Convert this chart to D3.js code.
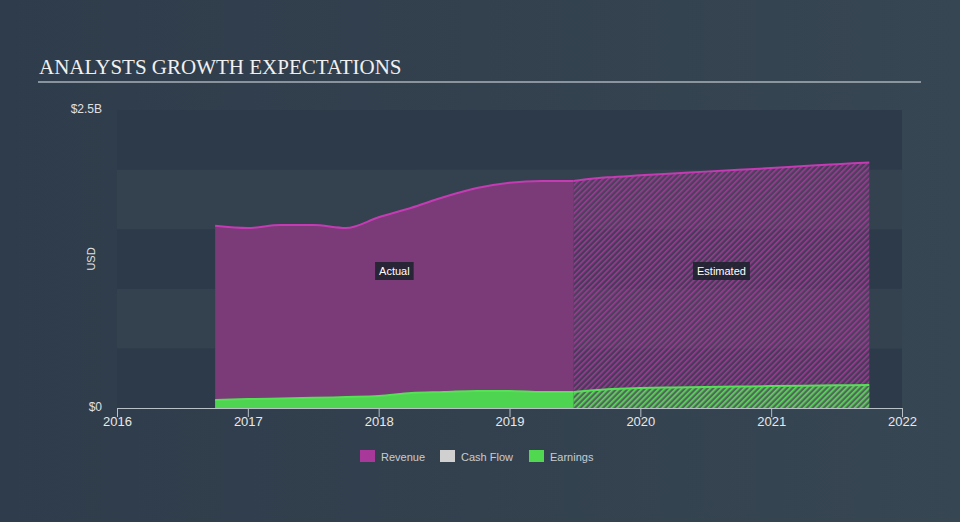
<!DOCTYPE html>
<html><head><meta charset="utf-8">
<script src="https://cdn.jsdelivr.net/npm/d3@7"></script>
<style>html,body{margin:0;padding:0;background:#333f4e;}svg{display:block;}</style>
</head><body>
<script>
// ---- data (values in billions USD, x in fractional years) ----
const revenueActualX = [2016.75, 2017.0, 2017.25, 2017.5, 2017.75, 2018.0, 2018.25, 2018.5, 2018.75, 2019.0, 2019.25, 2019.49];
const revenueActualY = [1.529, 1.51, 1.535, 1.535, 1.51, 1.60, 1.68, 1.77, 1.845, 1.89, 1.905, 1.905];
const revenueEstX = [2019.49, 2019.75, 2020.0, 2020.25, 2020.5, 2020.75, 2021.0, 2021.25, 2021.5, 2021.75];
const revenueEstY = [1.905, 1.935, 1.952, 1.968, 1.983, 1.998, 2.013, 2.03, 2.045, 2.06];
const earningsActualX = [2016.75, 2017.0, 2017.25, 2017.5, 2017.75, 2018.0, 2018.25, 2018.5, 2018.75, 2019.0, 2019.25, 2019.49];
const earningsActualY = [0.067, 0.075, 0.08, 0.085, 0.092, 0.10, 0.126, 0.134, 0.143, 0.143, 0.134, 0.134];
const earningsEstX = [2019.49, 2019.75, 2020.0, 2020.25, 2020.5, 2020.75, 2021.0, 2021.25, 2021.5, 2021.75];
const earningsEstY = [0.134, 0.158, 0.167, 0.172, 0.176, 0.18, 0.184, 0.187, 0.19, 0.193];
const xTicks = [2016, 2017, 2018, 2019, 2020, 2021, 2022];
const yTickValues = [0, 2.5];
const yTickLabels = ["$0", "$2.5B"];
const legendNames = ["Revenue", "Cash Flow", "Earnings"];
const legendColors = ["#a8389a", "#d0d0d0", "#50d850"];
const title = "ANALYSTS GROWTH EXPECTATIONS";

const W = 960, H = 522;
const svg = d3.select("body").append("svg").attr("width", W).attr("height", H);
const defs = svg.append("defs");
const bg = defs.append("linearGradient").attr("id","bg").attr("x1","0").attr("y1","0").attr("x2","1").attr("y2","0");
bg.append("stop").attr("offset","0").attr("stop-color","#2f3c4b");
bg.append("stop").attr("offset","1").attr("stop-color","#374653");
svg.append("rect").attr("width",W).attr("height",H).attr("fill","url(#bg)");

function hatch(id, base, stripe, op){
  const p = defs.append("pattern").attr("id",id).attr("patternUnits","userSpaceOnUse")
    .attr("width",4).attr("height",4).attr("patternTransform","rotate(45)");
  p.append("rect").attr("width",4).attr("height",4).attr("fill",base).attr("fill-opacity",op);
  p.append("rect").attr("width",1.6).attr("height",4).attr("fill",stripe);
}
hatch("hRev", "#7b3a78", "#9a3d92", 0.35);
hatch("hEarn", "#4cc64e", "#58d858", 0.35);

const x = d3.scaleLinear().domain([2016, 2022]).range([117, 902]);
const y = d3.scaleLinear().domain([0, 2.5]).range([408, 110]);

// bands
const bands = d3.range(0, 2.5, 0.5);
svg.append("g").selectAll("rect").data(bands).join("rect")
  .attr("x", x(2016)).attr("width", x(2022) - x(2016))
  .attr("y", d => y(d + 0.5)).attr("height", d => y(d) - y(d + 0.5))
  .attr("fill", (d, i) => i % 2 === 0 ? "#2d3a49" : "#34424f");

// title
svg.append("text").attr("x", 39).attr("y", 74).text(title)
  .attr("font-family", "Liberation Serif, serif").attr("font-size", 21).attr("fill", "#f0f0f0");
svg.append("line").attr("x1", 38).attr("x2", 921).attr("y1", 82).attr("y2", 82)
  .attr("stroke", "#a8b0b8").attr("stroke-width", 1.5);

const curve = d3.curveMonotoneX;
function zip(xs, ys){ return xs.map((v, i) => [v, ys[i]]); }
const area = d3.area().x(d => x(d[0])).y0(y(0)).y1(d => y(d[1])).curve(curve);
const line = d3.line().x(d => x(d[0])).y(d => y(d[1])).curve(curve);

const rA = zip(revenueActualX, revenueActualY), rE = zip(revenueEstX, revenueEstY);
const eA = zip(earningsActualX, earningsActualY), eE = zip(earningsEstX, earningsEstY);

svg.append("path").attr("d", area(rA)).attr("fill", "#7b3a78");
svg.append("path").attr("d", area(rE)).attr("fill", "url(#hRev)");
svg.append("path").attr("d", line(rA)).attr("fill", "none").attr("stroke", "#c43bb4").attr("stroke-width", 2);
svg.append("path").attr("d", line(rE)).attr("fill", "none").attr("stroke", "#c43bb4").attr("stroke-width", 2);

svg.append("path").attr("d", area(eA)).attr("fill", "#4fd451");
svg.append("path").attr("d", area(eE)).attr("fill", "url(#hEarn)");
svg.append("path").attr("d", line(eA)).attr("fill", "none").attr("stroke", "#55e055").attr("stroke-width", 2);
svg.append("path").attr("d", line(eE)).attr("fill", "none").attr("stroke", "#55e055").attr("stroke-width", 2);

// x axis
const xAxis = d3.axisBottom(x).tickValues(xTicks).tickFormat(d3.format("d")).tickSize(9).tickSizeOuter(0);
const gx = svg.append("g").attr("transform", `translate(0,${y(0)})`).call(xAxis);
gx.select(".domain").attr("stroke", "#b8c0c8");
gx.selectAll(".tick line").attr("stroke", "#b8c0c8");
gx.selectAll(".tick text").attr("fill", "#e8e8e8").attr("font-size", 13)
  .attr("font-family", "Liberation Sans, Arial, sans-serif").attr("dy", 0).attr("y", 18);

// y labels
svg.append("g").selectAll("text").data(yTickValues).join("text")
  .attr("x", 102).attr("y", d => y(d) + 3).attr("text-anchor", "end")
  .attr("font-family", "Liberation Sans, Arial, sans-serif").attr("font-size", 12)
  .attr("fill", "#e0e0e0").text((d, i) => yTickLabels[i]);
svg.append("text").attr("transform", `translate(95,${y(1.25)}) rotate(-90)`).attr("text-anchor", "middle")
  .attr("font-family", "Liberation Sans, Arial, sans-serif").attr("font-size", 11).attr("fill", "#e0e0e0").text("USD");

// Actual / Estimated labels
function tag(cx, txt){
  const t = svg.append("text").attr("x", cx).attr("y", 275).attr("text-anchor", "middle")
    .attr("font-family", "Liberation Sans, Arial, sans-serif").attr("font-size", 11).attr("fill", "#ffffff").text(txt);
  const b = t.node().getBBox();
  svg.insert("rect", () => t.node()).attr("x", b.x - 4).attr("y", b.y - 3).attr("width", b.width + 8).attr("height", b.height + 6)
    .attr("fill", "#1f2430").attr("fill-opacity", 0.9);
}
tag((x(revenueActualX[0]) + x(revenueEstX[0])) / 2, "Actual");
tag((x(revenueEstX[0]) + x(revenueEstX[revenueEstX.length - 1])) / 2, "Estimated");

// legend
const legX = [360, 440, 529];
const lg = svg.append("g").selectAll("g").data(legendNames).join("g")
  .attr("transform", (d, i) => `translate(${legX[i]},450)`);
lg.append("rect").attr("width", 15).attr("height", 12).attr("fill", (d, i) => legendColors[i]);
lg.append("text").attr("x", 21).attr("y", 10.5).text(d => d)
  .attr("font-family", "Liberation Sans, Arial, sans-serif").attr("font-size", 11).attr("fill", "#c8ccd0");
</script>
</body></html>
